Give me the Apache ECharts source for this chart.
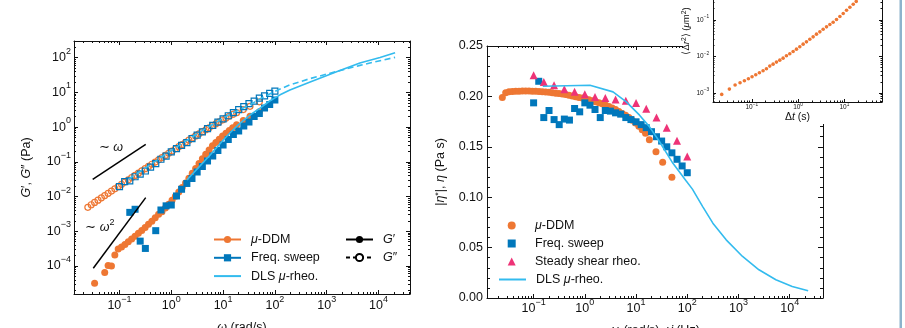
<!DOCTYPE html>
<html>
<head>
<meta charset="utf-8">
<title>Rheology comparison</title>
<script src="https://cdn.jsdelivr.net/npm/echarts@6.0.0/dist/echarts.min.js"></script>
<style>
  html, body { margin: 0; padding: 0; background: #fff; }
  #chart { width: 905px; height: 328px; }
</style>
</head>
<body>
<div id="chart"></div>
<script>
// ---- values ----
// mu-DDM: omega (rad/s), |eta*| (Pa s), G' and G'' (Pa)
const ddmOmega = [0.0245, 0.0285, 0.0331, 0.0385, 0.0447, 0.0519, 0.0603, 0.0700, 0.0813, 0.0944, 0.1096, 0.1274,
  0.148, 0.1718, 0.1995, 0.2317, 0.2692, 0.3126, 0.3631, 0.4217, 0.4898, 0.5689, 0.6607, 0.7674, 0.8913, 1.035,
  1.202, 1.396, 1.622, 1.884, 2.188, 2.541, 2.951, 3.428, 3.981, 4.624, 5.370, 6.237, 7.244, 8.414, 9.772, 11.35,
  13.18, 15.31, 18.2, 24.5, 33.1, 50.1];
const ddmEta = [0.199, 0.2035, 0.2045, 0.2048, 0.205, 0.2052, 0.2053, 0.2053, 0.2053, 0.2052, 0.205, 0.2048,
  0.2046, 0.2043, 0.204, 0.2037, 0.2032, 0.2028, 0.2023, 0.2018, 0.2011, 0.2004, 0.1997, 0.199, 0.1983, 0.1976,
  0.1967, 0.1958, 0.1948, 0.1937, 0.1926, 0.1914, 0.19, 0.1885, 0.187, 0.1851, 0.1831, 0.1812, 0.179, 0.1764,
  0.1735, 0.1703, 0.167, 0.1635, 0.157, 0.145, 0.1346, 0.1198];
const ddmGp = [null, null, 3.2e-5, null, null, 6.5e-5, 1.03e-4, 1.0e-4, 2.07e-4, 3.1e-4, 3.5e-4, 4.17e-4,
  5.0e-4, 6.0e-4, 7.2e-4, 8.7e-4, 1.05e-3, 1.29e-3, 1.58e-3, 1.95e-3, 2.45e-3, 3.09e-3, 3.63e-3, 4.68e-3, 6.03e-3,
  7.76e-3, 1.02e-2, 1.35e-2, 1.82e-2, 2.45e-2, 3.39e-2, 4.68e-2, 6.46e-2, 8.91e-2, 0.123, 0.166, 0.219, 0.288,
  0.363, 0.447, 0.55, 0.661, 0.794, 0.955, 1.17, 1.55, 2.04, 2.75];
const ddmGpp = [0.00488, 0.0058, 0.00677, 0.00788, 0.00916, 0.01065, 0.01237, 0.01436, 0.01668, 0.01937, 0.02247,
  0.02609, 0.03028, 0.0351, 0.0407, 0.0472, 0.0547, 0.0634, 0.0735, 0.0851, 0.0985, 0.114, 0.1319, 0.1527, 0.1767,
  0.2045, 0.2362, 0.273, 0.3155, 0.3641, 0.42, 0.484, 0.557, 0.64, 0.734, 0.84, 0.958, 1.093, 1.245, 1.415, 1.603,
  1.816, 2.053, 2.314, 2.606, 3.197, 3.96, 5.33];

// frequency sweep (rheometer)
const sweepOmega = [0.1, 0.126, 0.158, 0.2, 0.251, 0.316, 0.398, 0.501, 0.631, 0.794, 1, 1.26, 1.58, 2, 2.51,
  3.16, 3.98, 5.01, 6.31, 7.94, 10, 12.6, 15.8, 20, 25.1, 31.6, 39.8, 50.1, 63.1, 79.4, 100];
const sweepEta = [0.1936, 0.215, 0.179, 0.186, 0.177, 0.172, 0.1775, 0.1765, 0.188, 0.1847, 0.1936, 0.1913, 0.187,
  0.179, 0.186, 0.1854, 0.1837, 0.1824, 0.179, 0.177, 0.1748, 0.172, 0.169, 0.165, 0.16, 0.1557, 0.15, 0.144,
  0.1376, 0.131, 0.1243];
const sweepGp = [null, null, 3.5e-3, 4.3e-3, 5.2e-4, 3.2e-4, null, 1.04e-3, 4.1e-3, 5.4e-3, 5.7e-3, 0.0104, 0.0162,
  0.0238, 0.0331, 0.0509, 0.0733, 0.1057, 0.147, 0.212, 0.305, 0.44, 0.612, 0.773, 1.076, 1.4, 2.02, 2.46, 3.55,
  4.48, 6.03];
const sweepGpp = [0.01936, 0.02707, 0.02837, 0.03711, 0.04446, 0.05439, 0.07067, 0.08846, 0.1186, 0.1467, 0.1936,
  0.2408, 0.2964, 0.3571, 0.4672, 0.5862, 0.728, 0.908, 1.12, 1.39, 1.72, 2.12, 2.61, 3.2, 3.87, 4.72, 5.62, 6.79,
  7.92, 9.39, 10.87];

// steady shear
const shearRate = [0.1, 0.158, 0.251, 0.398, 0.631, 1, 1.58, 2.51, 3.98, 6.31, 10, 15.8, 25.1, 39.8, 63.1, 100];
const shearEta = [0.221, 0.2144, 0.211, 0.207, 0.2045, 0.2022, 0.1995, 0.1985, 0.197, 0.1958, 0.1935, 0.1877,
  0.179, 0.169, 0.156, 0.1405];

// DLS microrheology
const dlsOmega = [0.151, 0.316, 0.631, 1.26, 2.0, 3.55, 5.62, 10, 13.5, 20, 33.1, 52.5, 79.4, 126, 195, 479, 1550,
  4370, 10700, 20900];
const dlsGp = [null, null, null, null, 0.03, 0.075, 0.157, 0.42, 0.676, 1.2, 2.23, 3.6, 5.65, 8.5, 11.7, 20.0, 39.4,
  70, 101, 139];
const dlsGpp = [0.032, 0.067, 0.133, 0.265, 0.415, 0.72, 1.08, 1.8, 2.35, 3.1, 4.4, 6.6, 9.0, 12.5, 16.5, 25, 40,
  60, 82, 102];
const dlsEtaOmega = [0.151, 1.26, 3.55, 6.46, 11.7, 18.2, 28.8, 52.5, 95.5, 126, 200, 316, 575, 1200, 2510, 5370,
  11200, 22900];
const dlsEta = [0.21, 0.211, 0.2045, 0.1946, 0.1814, 0.17, 0.155, 0.1336, 0.116, 0.108, 0.0907, 0.0742, 0.0577,
  0.0412, 0.028, 0.0181, 0.0115, 0.0072];

// inset: mean squared displacement
const msdLag = [0.0224, 0.0328, 0.0436, 0.0558, 0.0693, 0.0845, 0.1014, 0.1219, 0.1462, 0.1754, 0.2075, 0.2449,
  0.2891, 0.3412, 0.4027, 0.4753, 0.561, 0.6622, 0.7834, 0.9247, 1.091, 1.288, 1.521, 1.795, 2.118, 2.5, 2.958,
  3.491, 4.121, 4.864, 5.741, 6.776, 8.017, 9.462, 11.17, 13.18, 15.56, 18.07];
const msdValue = [9.18e-4, 1.28e-3, 1.65e-3, 1.91e-3, 2.16e-3, 2.45e-3, 2.78e-3, 3.16e-3, 3.57e-3, 4.06e-3,
  4.59e-3, 5.43e-3, 6.15e-3, 6.98e-3, 7.91e-3, 8.97e-3, 0.01038, 0.01178, 0.01361, 0.01578, 0.01828, 0.02158,
  0.025, 0.02951, 0.0342, 0.04046, 0.04677, 0.05534, 0.06412, 0.07413, 0.0859, 0.1016, 0.1225, 0.1479, 0.1824,
  0.2198, 0.2655, 0.3141];

// power-law guides
const slope1Omega = [0.0304, 0.321];
const slope1G = [0.0314, 0.32];
const slope2Omega = [0.0312, 0.321];
const slope2G = [8.6e-5, 9.3e-3];

// tick labels (decades / linear values)
const modulusDecades = [-4, -3, -2, -1, 0, 1, 2];
const omegaDecades = [-1, 0, 1, 2, 3, 4];
const etaTicks = [0, 0.05, 0.1, 0.15, 0.2, 0.25];
const lagDecades = [-1, 0, 1];
const msdDecades = [-3, -2, -1];

// ---- styling ----
const FONT = "'Liberation Sans', Arial, Helvetica, sans-serif";
const INK = '#111';
const ORANGE = '#EE7733', BLUE = '#0077BB', CYAN = '#33BBEE', MAGENTA = '#EE3377';

const L = Math.log10;
function logLog(xs, ys) {
  const out = [];
  xs.forEach((x, i) => { if (ys[i] != null) out.push([L(x), L(ys[i])]); });
  return out;
}
function logLin(xs, ys) { return xs.map((x, i) => [L(x), ys[i]]); }

function minorLog(lo, hi) {
  const v = [];
  for (let n = Math.floor(lo); n <= Math.ceil(hi); n++) {
    for (let k = 2; k <= 9; k++) {
      const t = n + L(k);
      if (t > lo && t < hi) v.push(t);
    }
  }
  return v;
}
function minorLin(lo, hi, step, majors) {
  const v = [];
  for (let i = 0; lo + i * step <= hi + 1e-9; i++) {
    const t = +(lo + i * step).toFixed(4);
    if (!majors.some(m => Math.abs(m - t) < 1e-9)) v.push(t);
  }
  return v;
}

const pow10 = v => {
  const n = Math.round(v);
  return '{b|10}{s|' + (n < 0 ? '\u2212' + (-n) : String(n)) + '}';
};
function supRich(fs) {
  return {
    b: { fontSize: fs, lineHeight: Math.round(fs * 1.75), fontFamily: FONT, color: INK },
    s: { fontSize: Math.round(fs * 7.2) / 10, lineHeight: fs, verticalAlign: 'top', fontFamily: FONT, color: INK }
  };
}
const italic = fs => ({ fontStyle: 'italic', fontSize: fs, fontFamily: FONT, color: INK });

// plot areas (inset reaches above the visible top edge)
const gridRects = [
  { left: 74, top: 41, width: 336, height: 253 },
  { left: 487, top: 46, width: 336, height: 252 },
  { left: 713, bottom: 226, width: 169, height: 142 }
];
const leftX = [-1.878, 4.608], leftY = [-4.807, 2.48];
const rightX = [-1.91, 4.65], rightY = [0, 0.25];
const insetX = [-1.838, 1.814], insetY = [-3.245, 0.632];

const xAxis = [], yAxis = [];
function addAxisPair(list, o) {
  const common = { type: 'value', gridIndex: o.grid, position: o.pos, min: o.min, max: o.max,
    splitLine: { show: false }, z: o.z || 0 };
  list.push(Object.assign({}, common, {
    axisLine: { show: true, onZero: false, lineStyle: { color: INK, width: 1 } },
    axisTick: { show: true, inside: true, length: o.majLen, customValues: o.major, lineStyle: { color: INK, width: 1 } },
    axisLabel: o.label ? Object.assign({ show: true, customValues: o.major, fontFamily: FONT, color: INK }, o.label) : { show: false },
    name: o.name || '', nameLocation: 'middle', nameGap: o.nameGap || 0, nameTextStyle: o.nameStyle || {}
  }));
  list.push(Object.assign({}, common, {
    axisLine: { show: false, onZero: false },
    axisTick: { show: true, inside: true, length: o.minLen, customValues: o.minor, lineStyle: { color: INK, width: 1 } },
    axisLabel: { show: false }
  }));
}

const nameStyle = (fs, extra) => ({ fontSize: fs, fontFamily: FONT, color: INK,
  rich: Object.assign({ i: italic(fs), s: { fontSize: fs * 0.72, verticalAlign: 'top', lineHeight: fs, fontFamily: FONT, color: INK } }, extra || {}) });

// left panel: G', G'' vs omega
const lxMinor = minorLog(leftX[0], leftX[1]);
const lyMinor = minorLog(leftY[0], leftY[1]);
addAxisPair(xAxis, { grid: 0, pos: 'bottom', min: leftX[0], max: leftX[1], major: omegaDecades, minor: lxMinor, majLen: 4, minLen: 2,
  label: { formatter: pow10, margin: 1, fontSize: 12.5, rich: supRich(12.5) },
  name: '{i|ω} (rad/s)', nameGap: 27, nameStyle: nameStyle(12.5) });
addAxisPair(xAxis, { grid: 0, pos: 'top', min: leftX[0], max: leftX[1], major: omegaDecades, minor: lxMinor, majLen: 4, minLen: 2 });
addAxisPair(yAxis, { grid: 0, pos: 'left', min: leftY[0], max: leftY[1], major: modulusDecades, minor: lyMinor, majLen: 4, minLen: 2,
  label: { formatter: pow10, margin: 3, fontSize: 12.5, rich: supRich(12.5) },
  name: '{i|G}′, {i|G}″ (Pa)', nameGap: 41, nameStyle: nameStyle(12.5) });
addAxisPair(yAxis, { grid: 0, pos: 'right', min: leftY[0], max: leftY[1], major: modulusDecades, minor: lyMinor, majLen: 4, minLen: 2 });

// right panel: viscosity vs omega
const rxMinor = minorLog(rightX[0], rightX[1]);
const ryMinor = minorLin(0, 0.25, 0.01, etaTicks);
addAxisPair(xAxis, { grid: 1, pos: 'bottom', min: rightX[0], max: rightX[1], major: omegaDecades, minor: rxMinor, majLen: 4, minLen: 2,
  label: { formatter: pow10, margin: 0, fontSize: 12.5, rich: supRich(12.5) },
  name: '{i|ω} (rad/s), {i|γ̇} (Hz)', nameGap: 26, nameStyle: nameStyle(12.5) });
addAxisPair(xAxis, { grid: 1, pos: 'top', min: rightX[0], max: rightX[1], major: omegaDecades, minor: rxMinor, majLen: 4, minLen: 2 });
addAxisPair(yAxis, { grid: 1, pos: 'left', min: rightY[0], max: rightY[1], major: etaTicks, minor: ryMinor, majLen: 5, minLen: 3,
  label: { formatter: v => v.toFixed(2), margin: 4, fontSize: 12.5 },
  name: '|{i|η}{s|*}|, {i|η} (Pa s)', nameGap: 40, nameStyle: nameStyle(12.5) });
addAxisPair(yAxis, { grid: 1, pos: 'right', min: rightY[0], max: rightY[1], major: etaTicks, minor: ryMinor, majLen: 5, minLen: 3 });

// inset: MSD vs lag time
const ixMinor = minorLog(insetX[0], insetX[1]);
const iyMinor = minorLog(insetY[0], insetY[1]);
addAxisPair(xAxis, { grid: 2, pos: 'bottom', min: insetX[0], max: insetX[1], major: lagDecades, minor: ixMinor, majLen: 3, minLen: 1.5, z: 6,
  label: { formatter: pow10, margin: 0, fontSize: 6.5, rich: supRich(6.5) },
  name: 'Δ{i|t} (s)', nameGap: 9, nameStyle: nameStyle(10.5) });
addAxisPair(xAxis, { grid: 2, pos: 'top', min: insetX[0], max: insetX[1], major: lagDecades, minor: ixMinor, majLen: 3, minLen: 1.5, z: 6 });
addAxisPair(yAxis, { grid: 2, pos: 'left', min: insetY[0], max: insetY[1], major: msdDecades, minor: iyMinor, majLen: 3, minLen: 1.5, z: 6,
  label: { formatter: pow10, margin: 4, fontSize: 6.5, rich: supRich(6.5) },
  name: '⟨Δ{i|r}{s|2}⟩ ({i|μ}m{s|2})', nameGap: 22, nameStyle: nameStyle(9.5) });
addAxisPair(yAxis, { grid: 2, pos: 'right', min: insetY[0], max: insetY[1], major: msdDecades, minor: iyMinor, majLen: 3, minLen: 1.5, z: 6 });

const openStyle = c => ({ color: 'none', borderColor: c, borderWidth: 1.2, opacity: 1 });
const solid = c => ({ color: c, opacity: 1 });

const series = [
  // left panel
  { name: 'ddmGp', type: 'scatter', xAxisIndex: 0, yAxisIndex: 0, symbol: 'circle', symbolSize: 7,
    itemStyle: solid(ORANGE), data: logLog(ddmOmega, ddmGp) },
  { name: 'ddmGpp', type: 'scatter', xAxisIndex: 0, yAxisIndex: 0, symbol: 'circle', symbolSize: 6,
    itemStyle: openStyle(ORANGE), data: logLog(ddmOmega, ddmGpp) },
  { name: 'sweepGp', type: 'scatter', xAxisIndex: 0, yAxisIndex: 0, symbol: 'rect', symbolSize: 7,
    itemStyle: solid(BLUE), data: logLog(sweepOmega, sweepGp) },
  { name: 'sweepGpp', type: 'scatter', xAxisIndex: 0, yAxisIndex: 0, symbol: 'rect', symbolSize: 6,
    itemStyle: openStyle(BLUE), data: logLog(sweepOmega, sweepGpp) },
  { name: 'L_dls', type: 'line', xAxisIndex: 0, yAxisIndex: 0, symbol: 'none', z: 3,
    lineStyle: { color: CYAN, width: 1.6 }, itemStyle: { color: CYAN }, data: logLog(dlsOmega, dlsGp) },
  { name: 'dlsGpp', type: 'line', xAxisIndex: 0, yAxisIndex: 0, symbol: 'none', z: 3,
    lineStyle: { color: CYAN, width: 1.6, type: [6, 3.5] }, data: logLog(dlsOmega, dlsGpp) },
  { name: 'slope1', type: 'line', xAxisIndex: 0, yAxisIndex: 0, symbol: 'none',
    lineStyle: { color: '#000', width: 1.5 }, data: logLog(slope1Omega, slope1G) },
  { name: 'slope2', type: 'line', xAxisIndex: 0, yAxisIndex: 0, symbol: 'none',
    lineStyle: { color: '#000', width: 1.5 }, data: logLog(slope2Omega, slope2G) },
  // legend-only entries
  { name: 'L_ddm', type: 'line', xAxisIndex: 0, yAxisIndex: 0, symbol: 'circle', color: ORANGE,
    lineStyle: { width: 2 }, data: [] },
  { name: 'L_fs', type: 'line', xAxisIndex: 0, yAxisIndex: 0, symbol: 'rect', color: BLUE,
    lineStyle: { width: 2 }, data: [] },
  { name: 'L_gp', type: 'line', xAxisIndex: 0, yAxisIndex: 0, symbol: 'circle', color: '#000',
    lineStyle: { width: 2 }, data: [] },
  { name: 'L_gpp', type: 'line', xAxisIndex: 0, yAxisIndex: 0, symbol: 'emptyCircle', color: '#000',
    lineStyle: { width: 2, type: [4, 3] }, data: [] },
  // right panel
  { name: 'R_ddm', type: 'scatter', xAxisIndex: 4, yAxisIndex: 4, symbol: 'circle', symbolSize: 7,
    itemStyle: solid(ORANGE), data: logLin(ddmOmega, ddmEta) },
  { name: 'R_fs', type: 'scatter', xAxisIndex: 4, yAxisIndex: 4, symbol: 'rect', symbolSize: 7,
    itemStyle: solid(BLUE), data: logLin(sweepOmega, sweepEta) },
  { name: 'R_ss', type: 'scatter', xAxisIndex: 4, yAxisIndex: 4, symbol: 'triangle', symbolSize: 8,
    itemStyle: solid(MAGENTA), data: logLin(shearRate, shearEta) },
  { name: 'R_dls', type: 'line', xAxisIndex: 4, yAxisIndex: 4, symbol: 'none', z: 3,
    lineStyle: { color: CYAN, width: 1.6 }, itemStyle: { color: CYAN }, data: logLin(dlsEtaOmega, dlsEta) },
  // inset
  { name: 'msd', type: 'scatter', xAxisIndex: 8, yAxisIndex: 8, symbol: 'circle', symbolSize: 3.6, z: 8,
    itemStyle: solid(ORANGE), data: logLog(msdLag, msdValue) }
];

const legendText = {
  L_ddm: '{i|μ}-DDM', L_fs: 'Freq. sweep', L_dls: 'DLS {i|μ}-rheo.',
  L_gp: '{i|G}′', L_gpp: '{i|G}″',
  R_ddm: '{i|μ}-DDM', R_fs: 'Freq. sweep', R_ss: 'Steady shear rheo.', R_dls: 'DLS {i|μ}-rheo.'
};
const legendBase = (extra, textPad) => Object.assign({
  orient: 'vertical', selectedMode: false, padding: 0, itemGap: 5,
  formatter: n => legendText[n],
  textStyle: { fontSize: 12.5, fontFamily: FONT, color: INK, padding: [0, 0, 0, textPad == null ? 5 : textPad], rich: { i: italic(12.5) } }
}, extra);

const chart = echarts.init(document.getElementById('chart'), null, { renderer: 'canvas' });
chart.setOption({
  animation: false,
  backgroundColor: '#fff',
  grid: gridRects.map(r => Object.assign({ containLabel: false, outerBoundsMode: 'none' }, r)),
  xAxis: xAxis,
  yAxis: yAxis,
  legend: [
    legendBase({ left: 213, top: 233, itemWidth: 27, itemHeight: 9, itemGap: 5.3,
      data: [{ name: 'L_ddm' }, { name: 'L_fs' }, { name: 'L_dls', itemStyle: { opacity: 0 } }] }),
    legendBase({ left: 345, top: 233, itemWidth: 27, itemHeight: 9, itemGap: 5,
      data: [{ name: 'L_gp' }, { name: 'L_gpp' }] }),
    legendBase({ left: 507.7, top: 219, itemWidth: 8, itemHeight: 8, itemGap: 5,
      data: [{ name: 'R_ddm' }, { name: 'R_fs' }, { name: 'R_ss' }] }, 14.3),
    legendBase({ left: 498, top: 273, itemWidth: 27, itemHeight: 8, itemGap: 5,
      data: [{ name: 'R_dls', itemStyle: { opacity: 0 } }] })
  ],
  graphic: [
    { type: 'rect', z: 5, shape: { x: 683, y: 0, width: 216, height: 124 }, style: { fill: '#fff' } },
    { type: 'rect', z: 5, shape: { x: 899.5, y: 0, width: 2.5, height: 328 }, style: { fill: '#8db3cc' } },
    { type: 'text', z: 5, x: 111, y: 148, style: { text: '{a|∼ }{i|ω}', align: 'center', verticalAlign: 'middle',
      rich: { a: { fontSize: 12.5, fontFamily: FONT, fill: INK }, i: Object.assign(italic(12.5), { fill: INK }) } } },
    { type: 'text', z: 5, x: 100, y: 228, style: { text: '{a|∼ }{i|ω}{s|2}', align: 'center', verticalAlign: 'middle',
      rich: { a: { fontSize: 12.5, fontFamily: FONT, fill: INK, lineHeight: 20 }, i: Object.assign(italic(12.5), { fill: INK, lineHeight: 20 }),
        s: { fontSize: 9, fontFamily: FONT, fill: INK, lineHeight: 12, verticalAlign: 'top' } } } }
  ],
  series: series
});
</script>
</body>
</html>
